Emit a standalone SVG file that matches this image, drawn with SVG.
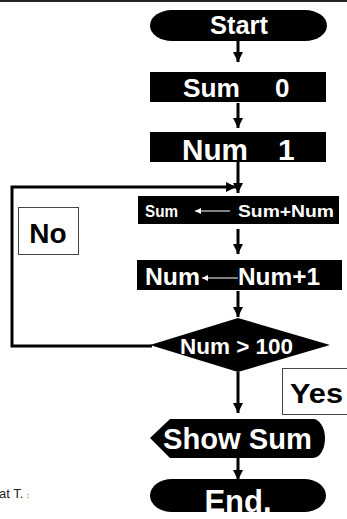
<svg xmlns="http://www.w3.org/2000/svg" width="347" height="519" viewBox="0 0 347 519">
<style>
.shape{fill:#000}
.t{fill:#fff;font-family:"Liberation Sans",Arial,sans-serif;font-weight:bold}
.lbl{fill:#000;font-family:"Liberation Sans",Arial,sans-serif;font-weight:bold}
.box{fill:#fff;stroke:#444;stroke-width:1}
.con{fill:none;stroke:#000;stroke-width:3}
</style>
<defs>
<marker id="ah" markerUnits="userSpaceOnUse" markerWidth="12" markerHeight="12" refX="10" refY="5" orient="auto">
<path d="M0,0 L10,5 L0,10 Z" fill="#000"/>
</marker>
<marker id="wh" markerUnits="userSpaceOnUse" markerWidth="8" markerHeight="8" refX="6" refY="3" orient="auto">
<path d="M0,0 L6,3 L0,6 Z" fill="#fff"/>
</marker>
</defs>
<line x1="0" y1="1" x2="347" y2="1" stroke="#222" stroke-width="2"/>
<g id="start">
<rect class="shape" x="150" y="10" width="177" height="31" rx="22" ry="15.5"/>
<text class="t" x="239" y="34" font-size="26" text-anchor="middle" textLength="58" lengthAdjust="spacingAndGlyphs">Start</text>
</g>
<g id="sum0">
<rect class="shape" x="150" y="72" width="176" height="30"/>
<text class="t" font-size="26" y="97"><tspan x="183" textLength="57" lengthAdjust="spacingAndGlyphs">Sum</tspan><tspan x="275">0</tspan></text>
</g>
<g id="num1">
<rect class="shape" x="150" y="132" width="176" height="30"/>
<text class="t" font-size="30" y="160"><tspan x="182" textLength="66" lengthAdjust="spacingAndGlyphs">Num</tspan><tspan x="278">1</tspan></text>
</g>
<g id="sumadd">
<rect class="shape" x="138" y="196" width="201" height="28"/>
<text class="t" font-size="17" y="217"><tspan x="145" textLength="33" lengthAdjust="spacingAndGlyphs">Sum</tspan><tspan x="238" textLength="96" lengthAdjust="spacingAndGlyphs">Sum+Num</tspan></text>
<line x1="230" y1="211" x2="195" y2="211" stroke="#fff" stroke-width="1.2" marker-end="url(#wh)"/>
</g>
<g id="numinc">
<rect class="shape" x="137" y="260" width="205" height="30"/>
<text class="t" font-size="24" y="285"><tspan x="145" textLength="55" lengthAdjust="spacingAndGlyphs">Num</tspan><tspan x="238" textLength="82" lengthAdjust="spacingAndGlyphs">Num+1</tspan></text>
<line x1="238" y1="278" x2="202" y2="278" stroke="#fff" stroke-width="1.2" marker-end="url(#wh)"/>
</g>
<g id="decision">
<polygon class="shape" points="238,318 330,345 238,372 150,345"/>
<text class="t" x="180" y="354" font-size="22" textLength="113" lengthAdjust="spacingAndGlyphs">Num &gt; 100</text>
</g>
<g id="show">
<path class="shape" d="M150,438 L170,419 L313,419 A12,19.5 0 0 1 313,458 L170,458 Z"/>
<text class="t" x="163" y="449" font-size="30" textLength="149" lengthAdjust="spacingAndGlyphs">Show Sum</text>
</g>
<g id="end">
<rect class="shape" x="150" y="479" width="176" height="33" rx="22" ry="16.5"/>
<text class="t" x="238" y="512" font-size="31" text-anchor="middle">End.</text>
</g>
<g id="no">
<rect class="box" x="18.5" y="207.5" width="60" height="47"/>
<text class="lbl" x="48" y="243" font-size="28" text-anchor="middle">No</text>
</g>
<g id="yes">
<rect class="box" x="282.5" y="368.5" width="70" height="46"/>
<text class="lbl" x="290" y="403" font-size="28" textLength="53" lengthAdjust="spacingAndGlyphs">Yes</text>
</g>
<g id="connectors">
<line class="con" x1="238" y1="41" x2="238" y2="62" marker-end="url(#ah)"/>
<line class="con" x1="238" y1="103" x2="238" y2="128" marker-end="url(#ah)"/>
<line class="con" x1="238" y1="162" x2="238" y2="193" marker-end="url(#ah)"/>
<line class="con" x1="238" y1="229" x2="238" y2="254" marker-end="url(#ah)"/>
<line class="con" x1="238" y1="291" x2="238" y2="317" marker-end="url(#ah)"/>
<line class="con" x1="238" y1="372" x2="238" y2="413" marker-end="url(#ah)"/>
<line class="con" x1="238" y1="458" x2="238" y2="480" marker-end="url(#ah)"/>
<polyline class="con" points="152,346 12,346 12,187 236,187" marker-end="url(#ah)"/>
</g>
<text x="-1" y="498" font-size="13" font-family="Liberation Sans,Arial,sans-serif" fill="#222">at T. <tspan font-size="8">:</tspan></text>
</svg>
